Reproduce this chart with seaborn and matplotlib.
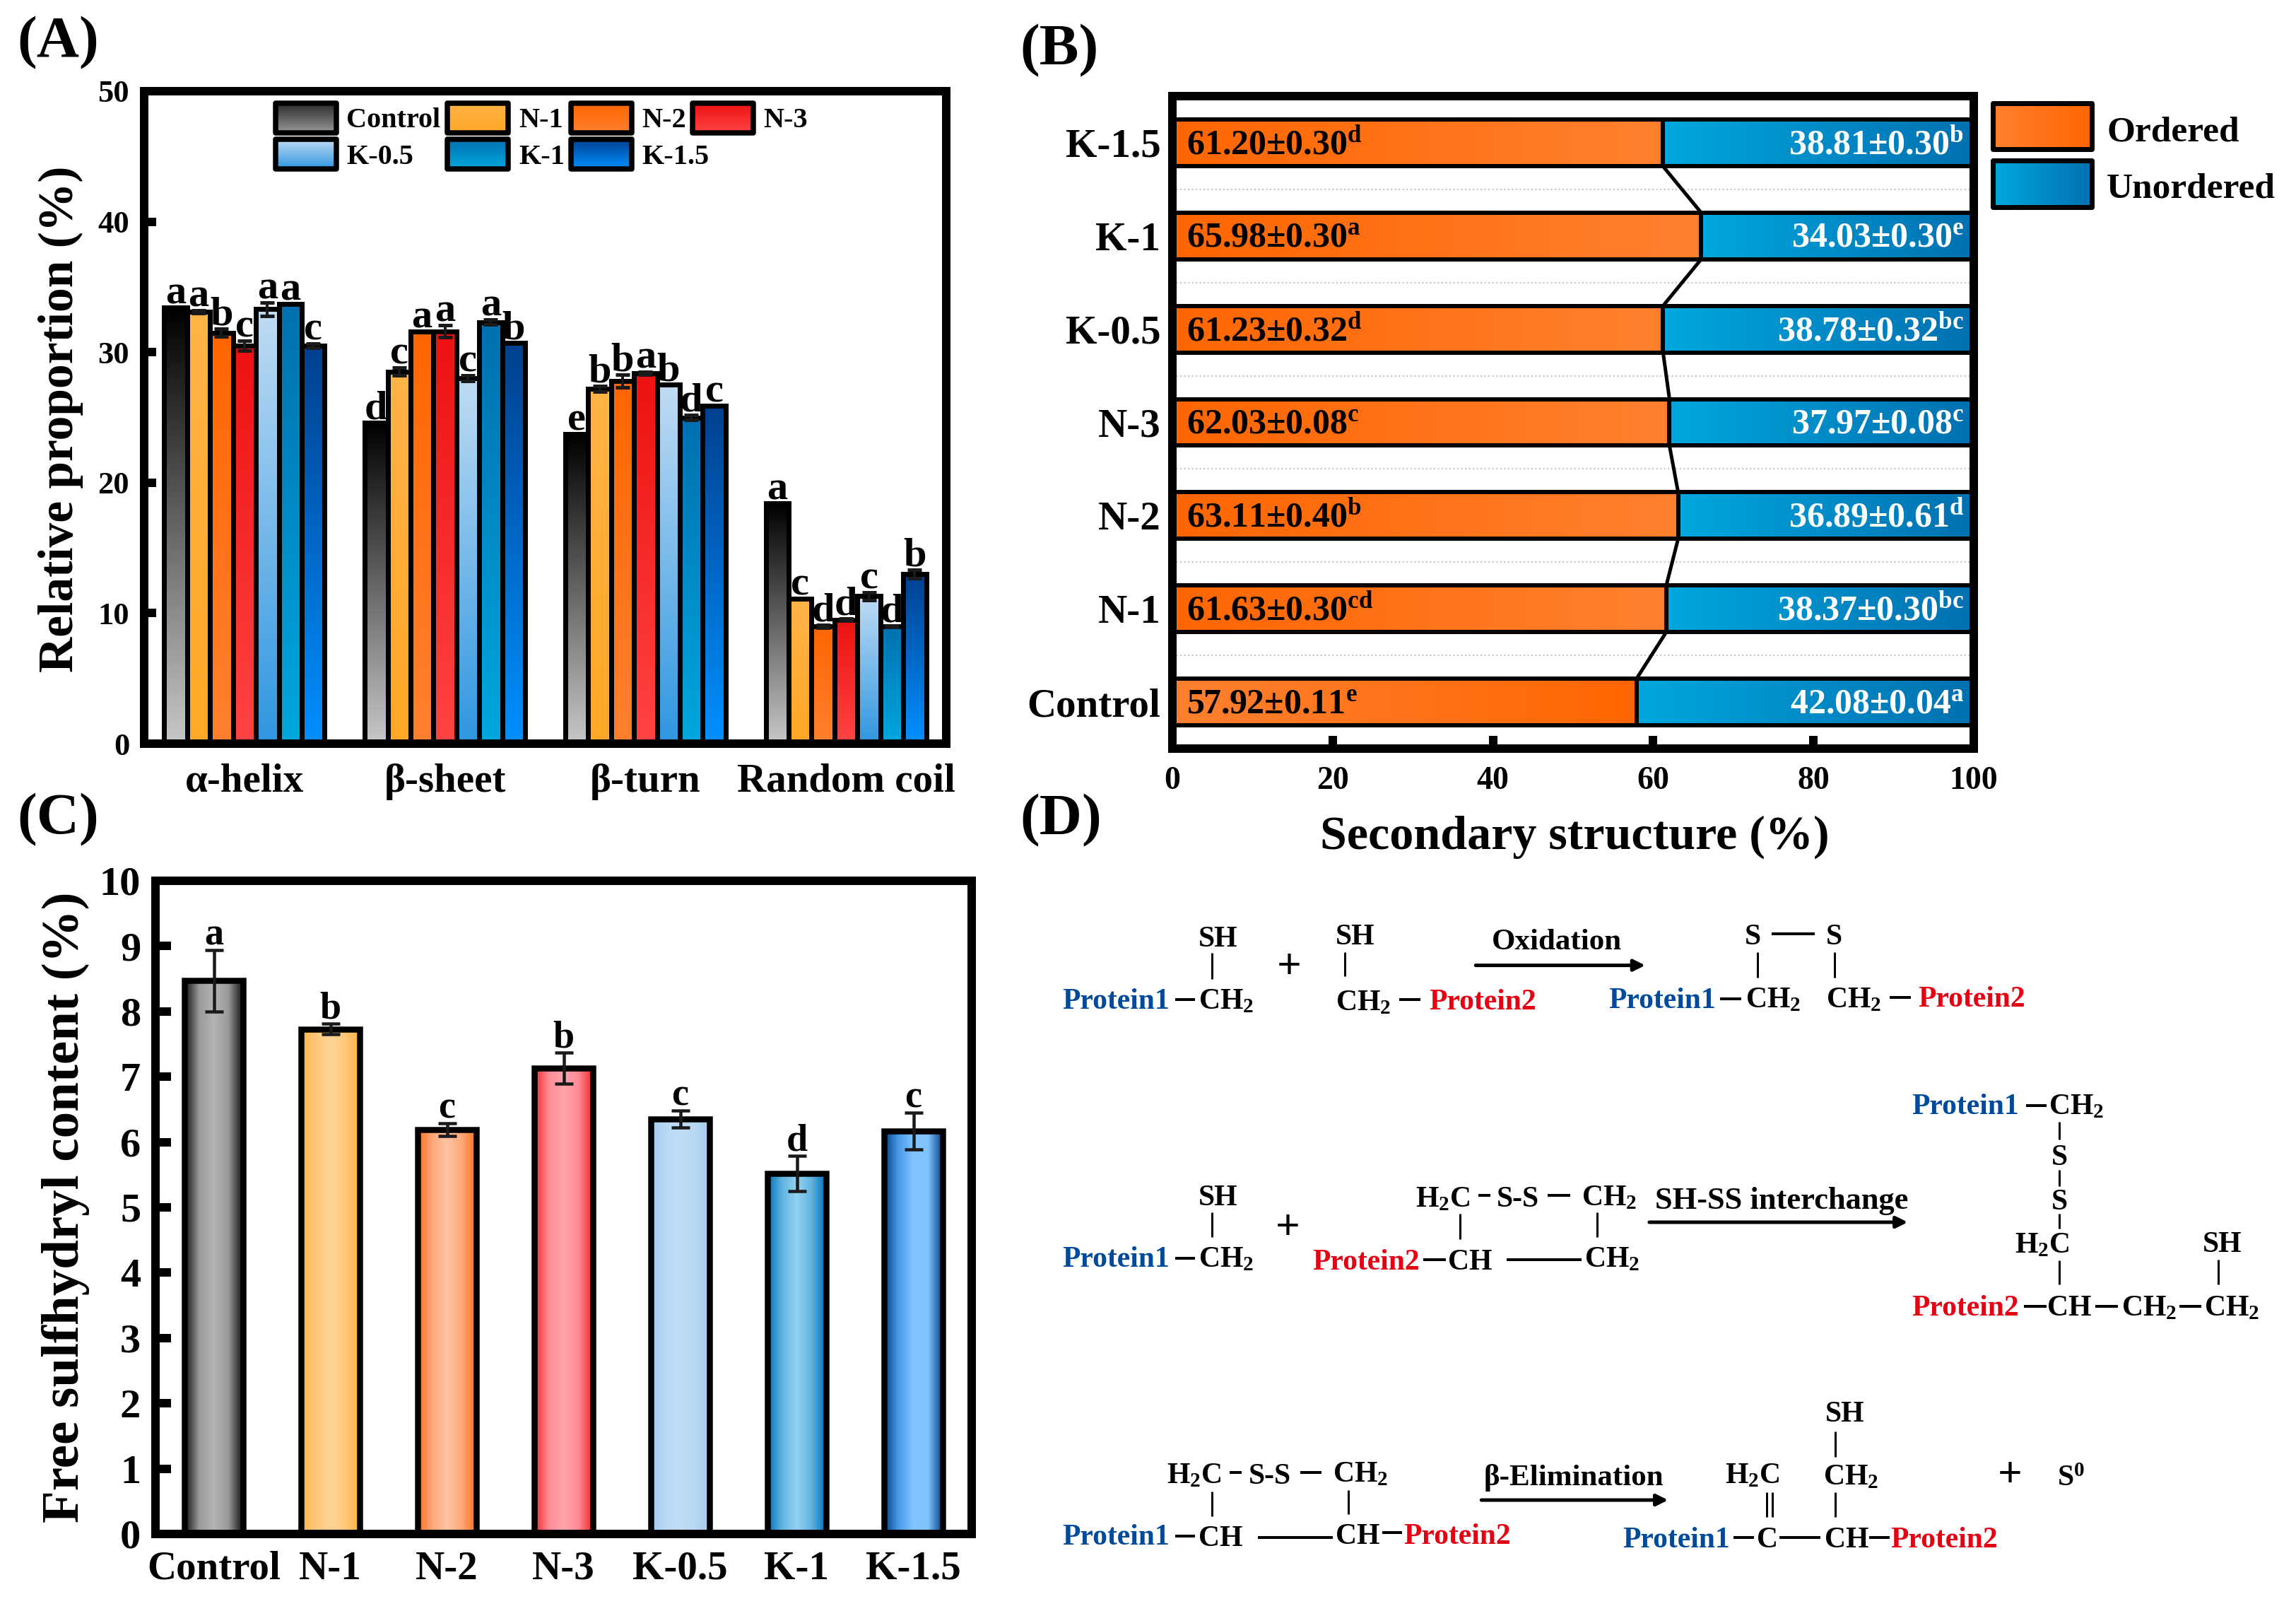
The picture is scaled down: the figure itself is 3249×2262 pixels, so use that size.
import matplotlib
matplotlib.use('Agg')
import matplotlib.pyplot as plt
from matplotlib.colors import LinearSegmentedColormap
from matplotlib.patches import Rectangle
import seaborn as sns
import pandas as pd
import numpy as np

W, H = 3249, 2262
PX = 0.72  # one pixel in points at dpi 100

samples = ['Control', 'N-1', 'N-2', 'N-3', 'K-0.5', 'K-1', 'K-1.5']
structures = ['α-helix', 'β-sheet', 'β-turn', 'Random coil']

# panel A
helix = [33.4, 33.1, 31.5, 30.5, 33.3, 33.7, 30.5]
sheet = [24.6, 28.5, 31.6, 31.6, 28.0, 32.3, 30.7]
turn = [23.7, 27.2, 27.8, 28.4, 27.5, 25.0, 25.9]
coil = [18.4, 11.1, 9.0, 9.5, 11.3, 9.0, 13.0]
helix_err = [0.0, 0.1, 0.3, 0.4, 0.5, 0.0, 0.15]
sheet_err = [0.0, 0.3, 0.0, 0.45, 0.2, 0.2, 0.0]
turn_err = [0.0, 0.2, 0.5, 0.1, 0.0, 0.2, 0.0]
coil_err = [0.0, 0.0, 0.1, 0.1, 0.3, 0.05, 0.3]
helix_sig = ['a', 'a', 'b', 'c', 'a', 'a', 'c']
sheet_sig = ['d', 'c', 'a', 'a', 'c', 'a', 'b']
turn_sig = ['e', 'b', 'b', 'a', 'b', 'd', 'c']
coil_sig = ['a', 'c', 'd', 'd', 'c', 'd', 'b']

# panel B
ordered = [57.92, 61.63, 63.11, 62.03, 61.23, 65.98, 61.20]
unordered = [42.08, 38.37, 36.89, 37.97, 38.78, 34.03, 38.81]
ordered_txt = ['57.92±0.11$^{e}$', '61.63±0.30$^{cd}$', '63.11±0.40$^{b}$', '62.03±0.08$^{c}$',
               '61.23±0.32$^{d}$', '65.98±0.30$^{a}$', '61.20±0.30$^{d}$']
unordered_txt = ['42.08±0.04$^{a}$', '38.37±0.30$^{bc}$', '36.89±0.61$^{d}$', '37.97±0.08$^{c}$',
                 '38.78±0.32$^{bc}$', '34.03±0.30$^{e}$', '38.81±0.30$^{b}$']

# panel C
sulfhydryl = [8.47, 7.73, 6.19, 7.13, 6.35, 5.52, 6.17]
sulfhydryl_err = [0.47, 0.08, 0.10, 0.24, 0.13, 0.27, 0.28]
sulfhydryl_sig = ['a', 'b', 'c', 'b', 'c', 'd', 'c']

colors_a = {'Control': ['#000000', '#c8c8c8'], 'N-1': ['#ffb347', '#ffa726'],
            'N-2': ['#ff6600', '#ff8030'], 'N-3': ['#ee1111', '#ff4444'],
            'K-0.5': ['#c0dcf4', '#2e96e0'], 'K-1': ['#0070b0', '#00a8e0'],
            'K-1.5': ['#004090', '#0090ff']}
colors_c = {'Control': ['#111111', '#9a9a9a', '#b4b4b4', '#9a9a9a', '#111111'],
            'N-1': ['#ffb347', '#ffc878', '#ffd498', '#ffc878', '#ffb347'],
            'N-2': ['#ff6f1e', '#ffa878', '#ffc4a4', '#ffa878', '#ff6f1e'],
            'N-3': ['#ee2a2a', '#ff8c96', '#ffa4ac', '#ff8c96', '#ee2a2a'],
            'K-0.5': ['#a6ccf0', '#b8d8f4', '#c2def6', '#b8d8f4', '#a6ccf0'],
            'K-1': ['#0070b8', '#60b4e0', '#94d2f2', '#60b4e0', '#0070b8'],
            'K-1.5': ['#004088', '#4a9ce8', '#80c4ff', '#80c4ff', '#004088']}
orange = ['#ff8030', '#ff6600']
blue = ['#00a8e0', '#0070b0']

sns.set_theme(style='ticks')
plt.rcParams['font.family'] = ['Liberation Serif']
plt.rcParams['font.weight'] = 'bold'
plt.rcParams['axes.labelweight'] = 'bold'
plt.rcParams['text.color'] = 'black'
plt.rcParams['axes.labelcolor'] = 'black'
plt.rcParams['axes.edgecolor'] = 'black'
plt.rcParams['xtick.color'] = 'black'
plt.rcParams['ytick.color'] = 'black'
plt.rcParams['mathtext.fontset'] = 'custom'
plt.rcParams['mathtext.bf'] = 'Liberation Serif:bold'
plt.rcParams['mathtext.rm'] = 'Liberation Serif:bold'
plt.rcParams['mathtext.it'] = 'Liberation Serif:bold'
plt.rcParams['mathtext.default'] = 'bf'


def gradient(ax, extent, stops, vertical):
    cmap = LinearSegmentedColormap.from_list('g', stops)
    ramp = np.linspace(0, 1, 256)
    ramp = ramp[:, None] if vertical else ramp[None, :]
    return ax.imshow(ramp, cmap=cmap, extent=extent, aspect='auto', origin='upper',
                     interpolation='bilinear', vmin=0, vmax=1, zorder=0)


def fill_bar(ax, bar, stops, vertical):
    x, y, w, h = bar.get_x(), bar.get_y(), bar.get_width(), bar.get_height()
    bar.set_facecolor('none')
    gradient(ax, (x, x + w, y, y + h), stops, vertical)


def panel_axes(left, top, right, bottom, lw=12):
    ax = fig.add_axes([left / W, 1 - bottom / H, (right - left) / W, (bottom - top) / H])
    for s in ax.spines.values():
        s.set_linewidth(lw * PX)
        s.set_zorder(5)
    return ax


fig = plt.figure(figsize=(W / 100, H / 100), dpi=100)

# ---- A
ax = panel_axes(204, 129, 1339, 1052)
rows = []
for name, vals in zip(structures, [helix, sheet, turn, coil]):
    for s, v in zip(samples, vals):
        rows.append({'structure': name, 'sample': s, 'value': v})
df = pd.DataFrame(rows)
sns.barplot(data=df, x='structure', y='value', hue='sample', order=structures, hue_order=samples,
            width=0.8, errorbar=None, edgecolor='black', linewidth=7 * PX, saturation=1,
            palette=['white'] * 7, legend=False, ax=ax)
errs = [helix_err, sheet_err, turn_err, coil_err]
sigs = [helix_sig, sheet_sig, turn_sig, coil_sig]
for k, cont in enumerate(list(ax.containers)):
    for g, bar in enumerate(cont):
        fill_bar(ax, bar, colors_a[samples[k]], True)
        cx = bar.get_x() + bar.get_width() / 2
        top = bar.get_height()
        e = errs[g][k]
        if e > 0:
            ax.errorbar(cx, top, yerr=e, fmt='none', ecolor='k', elinewidth=4 * PX,
                        capsize=10 * PX, capthick=5 * PX, zorder=3)
        ax.text(cx, top + e + 0.3, sigs[g][k], ha='center', va='baseline', fontsize=42, zorder=6)
ax.set_xlim(-0.5, 3.5)
ax.set_ylim(0, 50)
ax.set_yticks(range(0, 51, 10))
ax.tick_params(axis='y', direction='in', length=17 * PX, width=12 * PX, pad=15, labelsize=32)
ax.tick_params(axis='x', length=0, pad=20, labelsize=41)
ax.set_xlabel('')
ax.set_ylabel('Relative proportion (%)', fontsize=50)
ax.yaxis.set_label_coords(-0.076, 0.497)

# ---- B
ax = panel_axes(1659, 136, 2793, 1059)
order = samples[::-1]
df_b = pd.DataFrame({'sample': samples, 'ordered': ordered, 'unordered': unordered})
sns.barplot(data=df_b, y='sample', x='unordered', order=order, width=0.5, errorbar=None, color='white',
            edgecolor='black', linewidth=6 * PX, saturation=1, ax=ax)
sns.barplot(data=df_b, y='sample', x='ordered', order=order, width=0.5, errorbar=None, color='white',
            edgecolor='black', linewidth=6 * PX, saturation=1, ax=ax)
blue_bars, orange_bars = ax.containers[0], ax.containers[1]
for s, b1, b2 in zip(order, blue_bars, orange_bars):
    i = samples.index(s)
    b1.set_x(ordered[i])
    fill_bar(ax, b1, blue, False)
    # only the Control bar runs light to dark, the others go the other way
    fill_bar(ax, b2, orange if s == 'Control' else orange[::-1], False)
    yc = b2.get_y() + b2.get_height() / 2 + 0.03
    ax.text(1.8, yc, ordered_txt[i], ha='left', va='center', fontsize=36, color='black', zorder=6)
    ax.text(98.8, yc, unordered_txt[i], ha='right', va='center', fontsize=36, color='white', zorder=6)
for j in range(len(order) - 1):
    a, b = ordered[samples.index(order[j])], ordered[samples.index(order[j + 1])]
    ax.plot([a, b], [j + 0.25, j + 0.75], color='black', lw=5 * PX, zorder=3)
    ax.axhline(j + 0.5, color='#c4c4c4', lw=1.5, ls=':', zorder=0.5)
ax.set_xlim(0, 100)
ax.set_ylim(6.5, -0.5)
ax.set_xticks(range(0, 101, 20))
ax.tick_params(axis='x', direction='in', length=18 * PX, width=12 * PX, pad=18, labelsize=33)
ax.tick_params(axis='y', length=0, pad=12, labelsize=41)
ax.set_ylabel('')
ax.set_xlabel('Secondary structure (%)', fontsize=49)
ax.xaxis.set_label_coords(0.502, -0.102)

# ---- C
ax = panel_axes(220, 1246, 1375, 2170)
df_c = pd.DataFrame({'sample': samples, 'value': sulfhydryl})
sns.barplot(data=df_c, x='sample', y='value', order=samples, width=0.5, errorbar=None, color='white',
            edgecolor='black', linewidth=8.5 * PX, saturation=1, ax=ax)
for k, bar in enumerate(ax.containers[0]):
    fill_bar(ax, bar, colors_c[samples[k]], False)
    cx = bar.get_x() + bar.get_width() / 2
    ax.errorbar(cx, sulfhydryl[k], yerr=sulfhydryl_err[k], fmt='none', ecolor='k', elinewidth=4.5 * PX,
                capsize=13 * PX, capthick=4.5 * PX, zorder=3)
    ax.text(cx, sulfhydryl[k] + sulfhydryl_err[k] + 0.08, sulfhydryl_sig[k], ha='center', va='baseline',
            fontsize=39, zorder=6)
ax.set_xlim(-0.5, 6.5)
ax.set_ylim(0, 10)
ax.set_yticks(range(0, 11))
ax.tick_params(axis='y', direction='in', length=22 * PX, width=12 * PX, pad=15, labelsize=42)
ax.tick_params(axis='x', length=0, pad=17, labelsize=41)
ax.set_xlabel('')
ax.set_ylabel('Free sulfhydryl content (%)', fontsize=54)
ax.yaxis.set_label_coords(-0.0805, 0.5)

# ---- overlay in pixels: legends, panel letters, scheme D
ov = fig.add_axes([0, 0, 1, 1], zorder=10)
ov.patch.set_alpha(0)
ov.axis('off')


def swatch(x0, y0, x1, y1, stops, vertical, lw):
    gradient(ov, (x0, x1, y1, y0), stops, vertical)
    ov.add_patch(Rectangle((x0, y0), x1 - x0, y1 - y0, fill=False, ec='black', lw=lw * PX, joinstyle='round'))


legend_a = [('Control', 386, 142, 490, ['#2a2a2a', '#999999']), ('N-1', 629, 142, 734, colors_a['N-1']),
            ('N-2', 804, 142, 908, colors_a['N-2']), ('N-3', 976, 142, 1080, colors_a['N-3']),
            ('K-0.5', 386, 193, 490, colors_a['K-0.5']), ('K-1', 629, 193, 734, colors_a['K-1']),
            ('K-1.5', 804, 193, 908, colors_a['K-1.5'])]
for label, x, y, tx, stops in legend_a:
    swatch(x + 4, y + 4, x + 90, y + 46, stops, True, 7.5)
    ov.text(tx, y + 29, label, va='center', ha='left', fontsize=29)

swatch(2820, 146, 2960, 211, orange, False, 7)
swatch(2820, 227, 2960, 293, blue, False, 7)
ov.text(2981, 188, 'Ordered', va='center', ha='left', fontsize=37)
ov.text(2981, 268, 'Unordered', va='center', ha='left', fontsize=37)

ov.text(24, 61, '(A)', va='center', ha='left', fontsize=60)
ov.text(1443, 72, '(B)', va='center', ha='left', fontsize=60)
ov.text(24, 1160, '(C)', va='center', ha='left', fontsize=60)
ov.text(1443, 1161, '(D)', va='center', ha='left', fontsize=60)

DBLUE, DRED = '#004a9c', '#e60012'


def zx(x):
    return 1440 + x / 0.867


def zy(y):
    return 1230 + y / 1.519


def t(x, y, s, color='black', size=30):
    ov.text(zx(x), zy(y) + 14, s, color=color, fontsize=size, ha='left', va='baseline')


def vl(x, y0, y1):
    ov.plot([zx(x), zx(x)], [zy(y0), zy(y1)], color='black', lw=3 * PX, solid_capstyle='butt')


def hl(x0, x1, y):
    ov.plot([zx(x0), zx(x1)], [zy(y), zy(y)], color='black', lw=4 * PX, solid_capstyle='butt')


def arrow(x0, x1, y):
    ov.annotate('', xy=(zx(x1), zy(y)), xytext=(zx(x0), zy(y)),
                arrowprops=dict(arrowstyle='-|>', color='black', lw=5 * PX, mutation_scale=24,
                                shrinkA=0, shrinkB=0))


# first reaction
t(222, 145, 'SH'); vl(238, 180, 235)
t(55, 278, 'Protein1', DBLUE); hl(193, 218, 280); t(222, 278, 'CH$_{2}$')
t(318, 213, '+', size=44)
t(390, 140, 'SH'); vl(401, 177, 230)
t(390, 282, 'CH$_{2}$'); hl(468, 494, 280); t(505, 280, 'Protein2', DRED)
t(582, 150, 'Oxidation', size=31); arrow(562, 770, 206)
t(892, 140, 'S'); hl(925, 978, 138); t(992, 140, 'S'); vl(908, 178, 233); vl(1002, 178, 232)
t(725, 276, 'Protein1', DBLUE); hl(862, 888, 278); t(893, 276, 'CH$_{2}$')
t(992, 276, 'CH$_{2}$'); hl(1070, 1096, 275); t(1105, 274, 'Protein2', DRED)

# second reaction
t(222, 700, 'SH'); vl(238, 737, 790)
t(55, 832, 'Protein1', DBLUE); hl(193, 218, 835); t(222, 833, 'CH$_{2}$')
t(316, 773, '+', size=44)
t(488, 703, 'H$_{2}$C'); hl(565, 580, 700); t(588, 703, 'S-S'); hl(650, 678, 700); t(692, 700, 'CH$_{2}$')
vl(543, 740, 795); vl(711, 737, 790)
t(362, 838, 'Protein2', DRED); hl(498, 525, 838); t(528, 838, 'CH'); hl(600, 692, 838); t(695, 833, 'CH$_{2}$')
t(782, 708, 'SH-SS interchange', size=32); arrow(775, 1092, 758)
t(1097, 505, 'Protein1', DBLUE); hl(1237, 1262, 508); t(1265, 505, 'CH$_{2}$')
vl(1278, 542, 580); t(1268, 613, 'S'); vl(1278, 645, 680); t(1268, 710, 'S'); vl(1278, 740, 772)
t(1223, 803, 'H$_{2}$C'); vl(1278, 840, 892)
t(1454, 800, 'SH'); vl(1473, 838, 892)
t(1097, 937, 'Protein2', DRED); hl(1235, 1262, 938); t(1263, 937, 'CH'); hl(1322, 1350, 938)
t(1354, 937, 'CH$_{2}$'); hl(1425, 1452, 938); t(1456, 937, 'CH$_{2}$')

# third reaction
t(183, 1298, 'H$_{2}$C'); hl(260, 275, 1295); t(283, 1298, 'S-S'); hl(347, 373, 1295); t(387, 1295, 'CH$_{2}$')
vl(238, 1337, 1390); vl(406, 1333, 1385)
t(55, 1430, 'Protein1', DBLUE); hl(193, 218, 1433); t(222, 1433, 'CH'); hl(295, 387, 1436)
t(390, 1428, 'CH'); hl(447, 472, 1425); t(474, 1428, 'Protein2', DRED)
t(572, 1302, 'β-Elimination', size=31); arrow(569, 798, 1355)
t(868, 1298, 'H$_{2}$C'); t(988, 1300, 'CH$_{2}$'); t(991, 1165, 'SH')
vl(1003, 1208, 1263); vl(1003, 1338, 1392); vl(919, 1338, 1392); vl(926, 1338, 1392)
t(742, 1435, 'Protein1', DBLUE); hl(878, 903, 1435); t(907, 1435, 'C'); hl(935, 985, 1435)
t(990, 1435, 'CH'); hl(1045, 1070, 1435); t(1071, 1435, 'Protein2', DRED)
t(1202, 1305, '+', size=44); t(1275, 1303, 'S$^{0}$')

ov.set_xlim(0, W)
ov.set_ylim(H, 0)
fig.savefig('out.png', dpi=100, facecolor='white')
